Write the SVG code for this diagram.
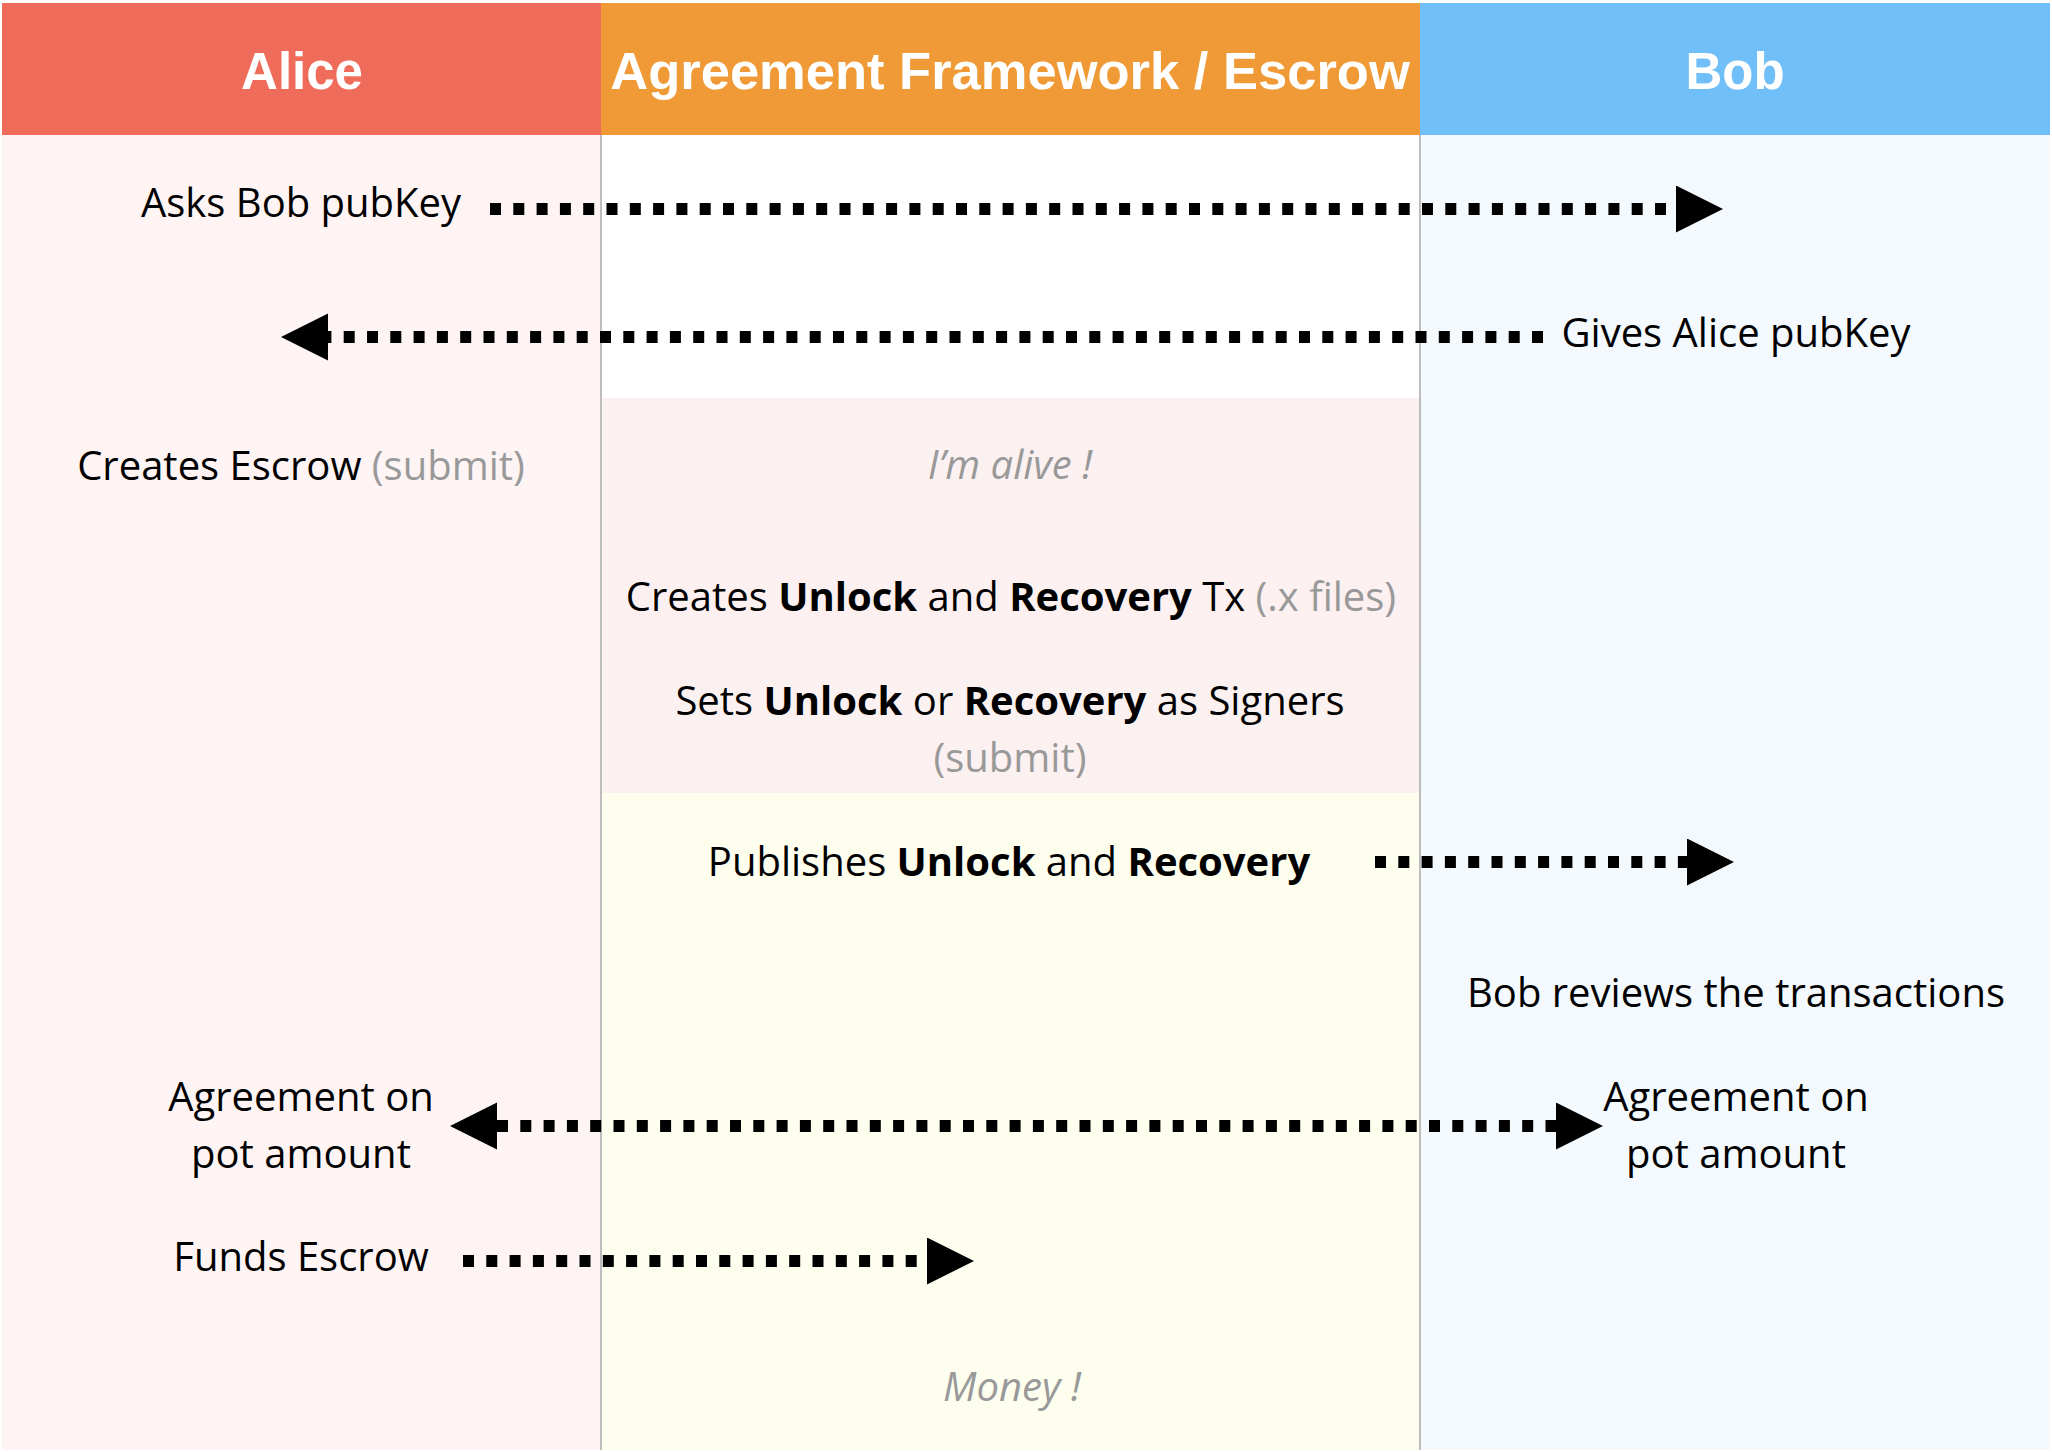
<svg xmlns="http://www.w3.org/2000/svg" width="2052" height="1452" viewBox="0 0 2052 1452">
<style>
.hdr{font-family:"Liberation Sans",Arial,sans-serif;font-weight:bold;font-size:51px;fill:#fff;text-anchor:middle}
.t{font-family:"Open Sans","Noto Sans",sans-serif;font-size:40px;fill:#000;text-anchor:middle}
.b{font-weight:bold}
.g{fill:#999}
.i{font-style:italic;fill:#999}
.div{stroke:#BDBDBD;stroke-width:2}
.conn{fill:none;stroke:#000;stroke-width:12;stroke-dasharray:11 12.3}
</style>
<defs>
<marker id="ah" markerUnits="userSpaceOnUse" markerWidth="48" markerHeight="48" refX="0" refY="23.5" orient="auto-start-reverse" viewBox="0 0 48 48">
<path d="M0,0 L47,23.5 L0,47 z" fill="#000"/>
</marker>
</defs>
<g id="lanes">
<rect x="2" y="135" width="600" height="1315" fill="#FEF4F4"/>
<rect x="602" y="135" width="818" height="1315" fill="#FFFFFF"/>
<rect x="602" y="398" width="818" height="133" fill="#FCF1F1"/>
<rect x="602" y="531" width="818" height="131" fill="#FCF0F0"/>
<rect x="602" y="662" width="818" height="131" fill="#FCF1F1"/>
<rect x="602" y="793" width="818" height="657" fill="#FEFEEF"/>
<rect x="1420" y="135" width="630" height="1315" fill="#F4F9FE"/>
<line class="div" x1="601" y1="135" x2="601" y2="1450"/>
<line class="div" x1="1420" y1="135" x2="1420" y2="1450"/>
</g>
<g id="header-alice">
<rect x="2" y="3" width="599" height="132" fill="#EF6C5A"/>
<text class="hdr" x="302" y="89">Alice</text>
</g>
<g id="header-escrow">
<rect x="601" y="3" width="819" height="132" fill="#F09A37"/>
<text class="hdr" x="1010" y="89" style="font-size:52.5px">Agreement Framework / Escrow</text>
</g>
<g id="header-bob">
<rect x="1420" y="3" width="630" height="132" fill="#71BFF9"/>
<text class="hdr" x="1735" y="89">Bob</text>
</g>
<g id="connectors">
<path class="conn" d="M490,209 H1676" marker-end="url(#ah)"/>
<path class="conn" d="M1543,337 H328" marker-end="url(#ah)"/>
<path class="conn" d="M1375,862 H1687" marker-end="url(#ah)"/>
<path class="conn" d="M497,1126 H1556" marker-start="url(#ah)" marker-end="url(#ah)"/>
<path class="conn" d="M463,1261 H927" marker-end="url(#ah)"/>
</g>
<g id="n-asks"><text class="t" x="301" y="217">Asks Bob pubKey</text></g>
<g id="n-gives"><text class="t" x="1736" y="347">Gives Alice pubKey</text></g>
<g id="n-creates-escrow"><text class="t" x="301" y="480">Creates Escrow <tspan class="g">(submit)</tspan></text></g>
<g id="n-alive"><text class="t i" x="1010" y="479">I’m alive !</text></g>
<g id="n-creates-tx"><text class="t" x="1011" y="611">Creates <tspan class="b">Unlock</tspan> and <tspan class="b">Recovery</tspan> Tx <tspan class="g">(.x files)</tspan></text></g>
<g id="n-sets"><text class="t" x="1010" y="715">Sets <tspan class="b">Unlock</tspan> or <tspan class="b">Recovery</tspan> as Signers</text>
<text class="t g" x="1010" y="772">(submit)</text></g>
<g id="n-publishes"><text class="t" x="1009" y="876">Publishes <tspan class="b">Unlock</tspan> and <tspan class="b">Recovery</tspan></text></g>
<g id="n-reviews"><text class="t" x="1736" y="1007">Bob reviews the transactions</text></g>
<g id="n-agree-alice"><text class="t" x="301" y="1111">Agreement on</text><text class="t" x="301" y="1168">pot amount</text></g>
<g id="n-agree-bob"><text class="t" x="1736" y="1111">Agreement on</text><text class="t" x="1736" y="1168">pot amount</text></g>
<g id="n-funds"><text class="t" x="301" y="1271">Funds Escrow</text></g>
<g id="n-money"><text class="t i" x="1012" y="1401">Money !</text></g>
</svg>
